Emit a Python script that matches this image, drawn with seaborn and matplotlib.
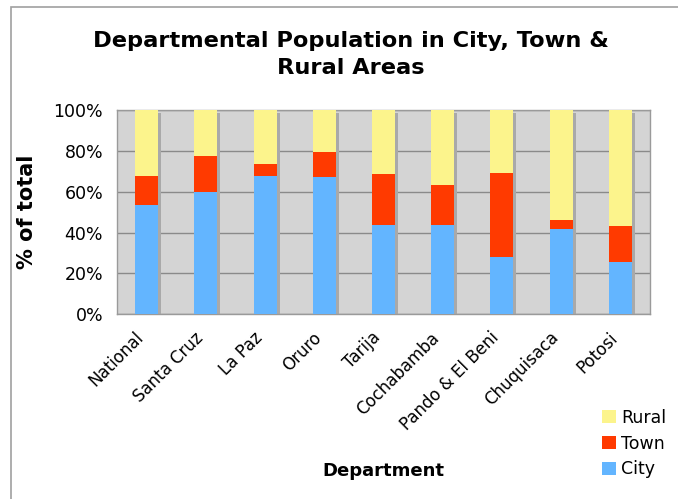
import matplotlib
matplotlib.use("Agg")
import matplotlib.pyplot as plt
import matplotlib.transforms as mtransforms
from matplotlib.patches import Rectangle, Patch
import seaborn as sns
import pandas as pd
import numpy as np

departments = ["National", "Santa Cruz", "La Paz", "Oruro", "Tarija",
               "Cochabamba", "Pando & El Beni", "Chuquisaca", "Potosi"]
city = [53.5, 60.0, 67.7, 67.2, 43.5, 43.5, 28.2, 41.8, 25.5]
town = [14.3, 17.5, 5.7, 12.4, 25.3, 19.6, 41.1, 4.4, 17.7]
rural = [32.2, 22.5, 26.6, 20.4, 31.2, 36.9, 30.7, 53.8, 56.8]
yticks = [0, 20, 40, 60, 80, 100]
ytick_labels = ["0%", "20%", "40%", "60%", "80%", "100%"]

colors = {"City": "#63b5ff", "Town": "#ff3a00", "Rural": "#fcf48c"}

df = pd.DataFrame({"Department": departments, "City": city,
                   "Town": town, "Rural": rural})
df["cum_city"] = df["City"]
df["cum_town"] = df["City"] + df["Town"]
df["cum_rural"] = df["City"] + df["Town"] + df["Rural"]

sns.set_theme(style="white")
plt.rcParams["font.family"] = ["DejaVu Sans"]
plt.rcParams.update({"text.color": "black", "axes.labelcolor": "black",
                     "xtick.labelcolor": "black", "ytick.labelcolor": "black"})

fig = plt.figure(figsize=(6.78, 4.99), dpi=100)
ax = fig.add_axes([0.1726, 0.370, 0.786, 0.4096])
ax.set_facecolor("#d4d4d4")

width = 0.39
# drop shadow behind each full stacked bar
sns.barplot(data=df, x="Department", y="cum_rural", color="#a9a9a9",
            width=width, saturation=1, ax=ax, zorder=2)
shadow_patches = list(ax.patches)
offset = mtransforms.ScaledTranslation(3 / 100, -3 / 100, fig.dpi_scale_trans)
for p in shadow_patches:
    p.set_transform(ax.transData + offset)
    p.set_linewidth(0)

for col, key in [("cum_rural", "Rural"), ("cum_town", "Town"), ("cum_city", "City")]:
    sns.barplot(data=df, x="Department", y=col, color=colors[key],
                width=width, saturation=1, ax=ax, zorder=3, linewidth=0)

ax.set_ylim(0, 100)
ax.set_xlim(-0.5, len(departments) - 0.5)
ax.set_yticks(yticks)
ax.set_yticklabels(ytick_labels, fontsize=12.5)
ax.yaxis.grid(True, color="#8a8a8a", linewidth=1.0, zorder=1)
ax.set_axisbelow(True)

ax.set_xticks(range(len(departments)))
ax.set_xticklabels(departments, rotation=45, ha="right",
                   rotation_mode="anchor", fontsize=12)
ax.tick_params(axis="x", which="major", length=0, pad=6)
label_shift = mtransforms.ScaledTranslation(-12 / 100, -6 / 100, fig.dpi_scale_trans)
for lbl in ax.get_xticklabels():
    lbl.set_transform(lbl.get_transform() + label_shift)
ax.set_xticks(np.arange(-0.5, len(departments)), minor=True)
ax.tick_params(axis="x", which="minor", length=5, color="#8a8a8a",
               direction="out", width=1)
ax.tick_params(axis="y", length=6, color="#8a8a8a", direction="out",
               width=1, pad=4)

for s in ax.spines.values():
    s.set_color("#9a9a9a")
    s.set_linewidth(1.0)

ax.set_xlabel("Department", fontsize=13, fontweight="bold")
ax.set_ylabel("% of total", fontsize=15, fontweight="bold", labelpad=12)
ax.xaxis.set_label_coords(0.5, -0.72)

fig.text(0.518, 0.89, "Departmental Population in City, Town &\nRural Areas",
         ha="center", va="center", fontsize=16.2, fontweight="bold",
         linespacing=1.45)

handles = [Patch(facecolor=colors[k], edgecolor="none") for k in ["Rural", "Town", "City"]]
fig.legend(handles, ["Rural", "Town", "City"], loc="upper left",
           bbox_to_anchor=(0.87, 0.205), frameon=False, fontsize=12.5,
           handlelength=0.8, handleheight=0.8, handletextpad=0.3,
           labelspacing=0.45, borderpad=0.2)

# outer frame of the chart area
fig.patches.append(Rectangle((11 / 678, -0.1), 1.2, (499 - 7) / 499 + 0.1,
                             transform=fig.transFigure, fill=False,
                             edgecolor="#a0a0a0", linewidth=1.2))

fig.savefig("out.png", dpi=100)
